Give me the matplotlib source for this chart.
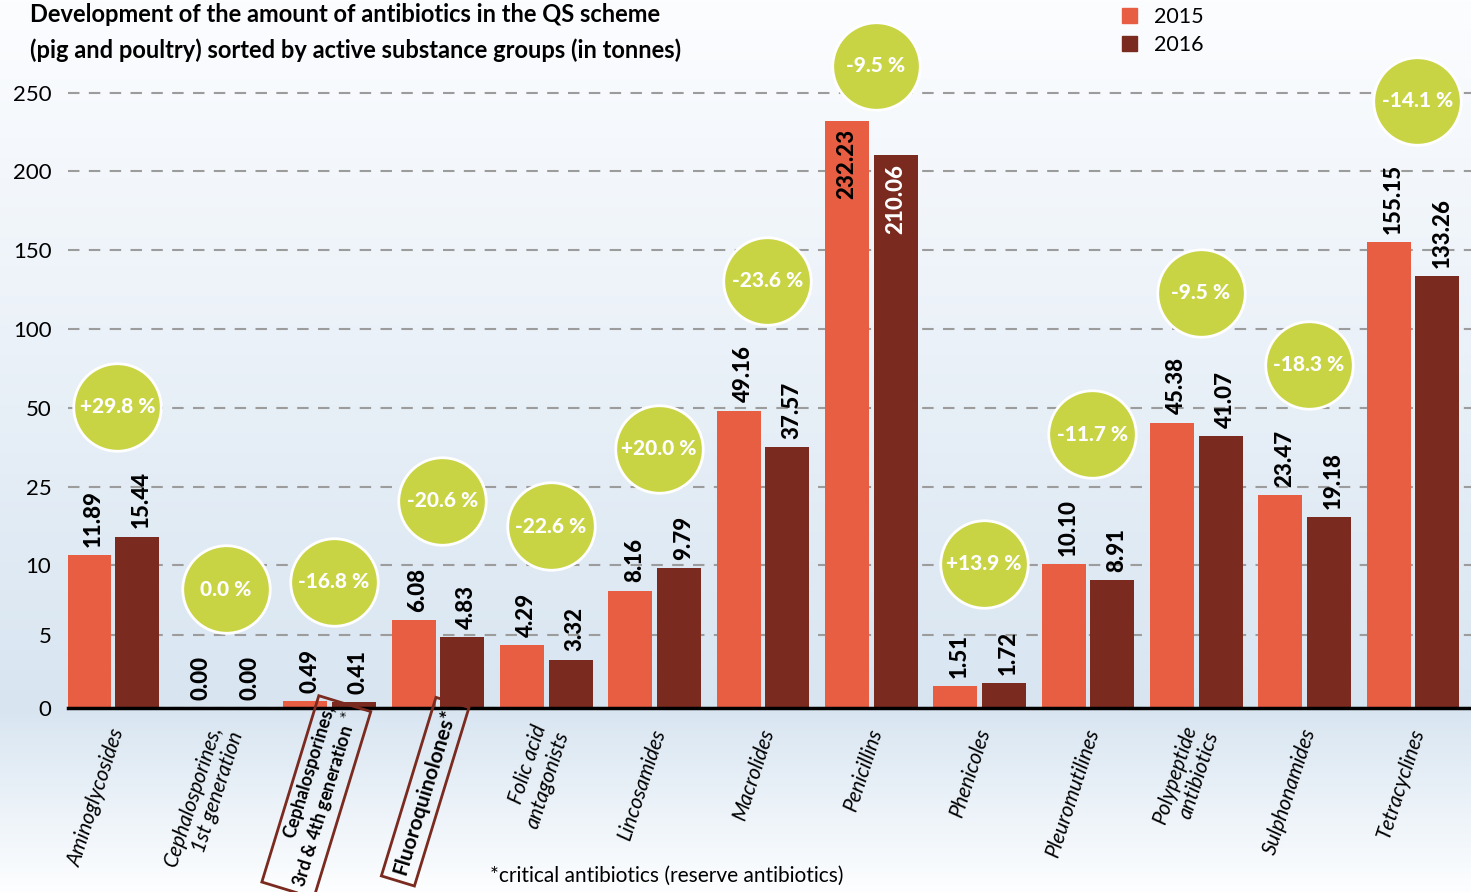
import numpy as np
import matplotlib
matplotlib.use("Agg")
import matplotlib.pyplot as plt
from matplotlib.transforms import offset_copy
from matplotlib.patches import Patch

plt.rcParams['font.family'] = ['Lato', 'DejaVu Sans']

categories = ["Aminoglycosides", "Cephalosporines,\n1st generation",
              "Cephalosporines,\n3rd & 4th generation $^*$", "Fluoroquinolones*",
              "Folic acid\nantagonists", "Lincosamides", "Macrolides", "Penicillins",
              "Phenicoles", "Pleuromutilines", "Polypeptide\nantibiotics",
              "Sulphonamides", "Tetracyclines"]
v2015 = [11.89, 0.00, 0.49, 6.08, 4.29, 8.16, 49.16, 232.23, 1.51, 10.10, 45.38, 23.47, 155.15]
v2016 = [15.44, 0.00, 0.41, 4.83, 3.32, 9.79, 37.57, 210.06, 1.72, 8.91, 41.07, 19.18, 133.26]
changes = ["+29.8 %", "0.0 %", "-16.8 %", "-20.6 %", "-22.6 %", "+20.0 %", "-23.6 %",
           "-9.5 %", "+13.9 %", "-11.7 %", "-9.5 %", "-18.3 %", "-14.1 %"]
critical = {2: 13, 3: 15}   # index -> label font size
yticks = [0, 5, 10, 25, 50, 100, 150, 200, 250]

c15 = "#e85e42"
c16 = "#7a2a1f"
green = "#c9d444"

# piecewise scale: equal spacing between the uneven ticks
kv = np.array([-50, 0, 5, 10, 25, 50, 100, 150, 200, 250, 300, 400])
kp = np.array([-79, 0, 73, 143, 221, 300, 379, 458, 537, 615, 694, 852])
fwd = lambda v: np.interp(v, kv, kp)
inv = lambda p: np.interp(p, kp, kv)

W, H = 1471, 892
fig = plt.figure(figsize=(W / 100, H / 100), dpi=100)

# background gradient
bg = fig.add_axes([0, 0, 1, 1], zorder=-5)
top = np.array([0xfc, 0xfd, 0xff]) / 255
mid = np.array([0xd8, 0xe5, 0xf1]) / 255
bot = np.array([0xfd, 0xfe, 0xff]) / 255
grad = np.zeros((H, 1, 3))
for i in range(H):
    if i <= 708:
        t = i / 708
        grad[i, 0] = top + (mid - top) * t
    else:
        t = (i - 708) / (H - 708)
        grad[i, 0] = mid + (bot - mid) * t
bg.imshow(grad, aspect="auto", extent=[0, 1, 0, 1])
bg.axis("off")

ax = fig.add_axes([68 / W, (H - 708) / H, (W - 68) / W, 708 / H])
ax.patch.set_alpha(0)
ax.set_yscale("function", functions=(fwd, inv))

x = np.arange(len(categories))
w = 0.405
d = 0.225
ax.bar(x - d, v2015, w, color=c15, zorder=2)
ax.bar(x + d, v2016, w, color=c16, zorder=2)

ax.set_xlim(-0.415, 12.535)
ax.set_ylim(0, 308.9)
ax.set_yticks(yticks)
ax.set_yticklabels([str(t) for t in yticks], fontsize=16)
ax.tick_params(axis="y", length=0, pad=12)
ax.grid(axis="y", color="#9c9c9c", lw=1.5, dashes=(5.5, 4.5), zorder=0)
for s in ["top", "right", "left"]:
    ax.spines[s].set_visible(False)
ax.spines["bottom"].set_linewidth(2.5)
ax.spines["bottom"].set_color("black")
ax.spines["bottom"].set_zorder(3)

# category labels; the critical groups get a bold boxed label
ticklabels = ["" if i in critical else c for i, c in enumerate(categories)]
ax.set_xticks(x + 0.05)
ax.set_xticklabels(ticklabels, rotation=72, ha="right", va="center",
                   rotation_mode="anchor", fontsize=15, style="italic",
                   multialignment="right")
ax.tick_params(axis="x", length=0, pad=15)
for i, fs in critical.items():
    ax.annotate(categories[i], (x[i] + 0.05, 0), xytext=(5, -1), textcoords="offset points",
                rotation=73, ha="right", va="center", rotation_mode="anchor",
                multialignment="right", fontsize=fs, fontweight="bold",
                annotation_clip=False, zorder=4,
                bbox=dict(boxstyle="square,pad=0.35", fc="none", ec=c16, lw=2))

# value labels and change circles
for i in range(len(categories)):
    big = max(v2015[i], v2016[i])
    inside = big > 200
    for xx, v, col in [(x[i] - d, v2015[i], "black"), (x[i] + d, v2016[i], "white")]:
        if inside:
            ax.annotate(f"{v:.2f}", (xx, v), xytext=(0, -6), textcoords="offset points",
                        rotation=90, ha="center", va="top", fontsize=16,
                        fontweight="black", color=col, zorder=4)
        else:
            ax.annotate(f"{v:.2f}", (xx + 0.04, v), xytext=(0, 6), textcoords="offset points",
                        rotation=90, ha="center", va="bottom", fontsize=16,
                        fontweight="black", color="black", zorder=4)
    lab = f"{big:.2f}"
    off = 55 if inside else 75 + 11 * len(lab)
    tr = offset_copy(ax.transData, fig=fig, y=off, units="dots")
    ax.plot([x[i] + 0.04], [big], marker="o", ms=63, mfc=green, mec="white", mew=2,
            transform=tr, zorder=5, clip_on=False)
    ax.text(x[i] + 0.04, big, changes[i], transform=tr, ha="center", va="center",
            color="white", fontsize=15, fontweight="black", zorder=6)

# title, legend, footnote
fig.text(30 / W, 1 - 14 / H, "Development of the amount of antibiotics in the QS scheme",
         fontsize=17, fontweight="bold", va="center")
fig.text(30 / W, 1 - 50 / H, "(pig and poultry) sorted by active substance groups (in tonnes)",
         fontsize=17, fontweight="bold", va="center")
fig.legend(handles=[Patch(color=c15, label="2015"), Patch(color=c16, label="2016")],
           loc="upper left", bbox_to_anchor=(1103 / W, 1 + 12 / H), frameon=False,
           fontsize=15.5, handlelength=0.7, handleheight=0.7, handletextpad=0.75,
           labelspacing=0.35)
fig.text(490 / W, 1 - 876 / H, "*critical antibiotics (reserve antibiotics)",
         fontsize=15, va="center")

fig.savefig("out.png", dpi=100)
